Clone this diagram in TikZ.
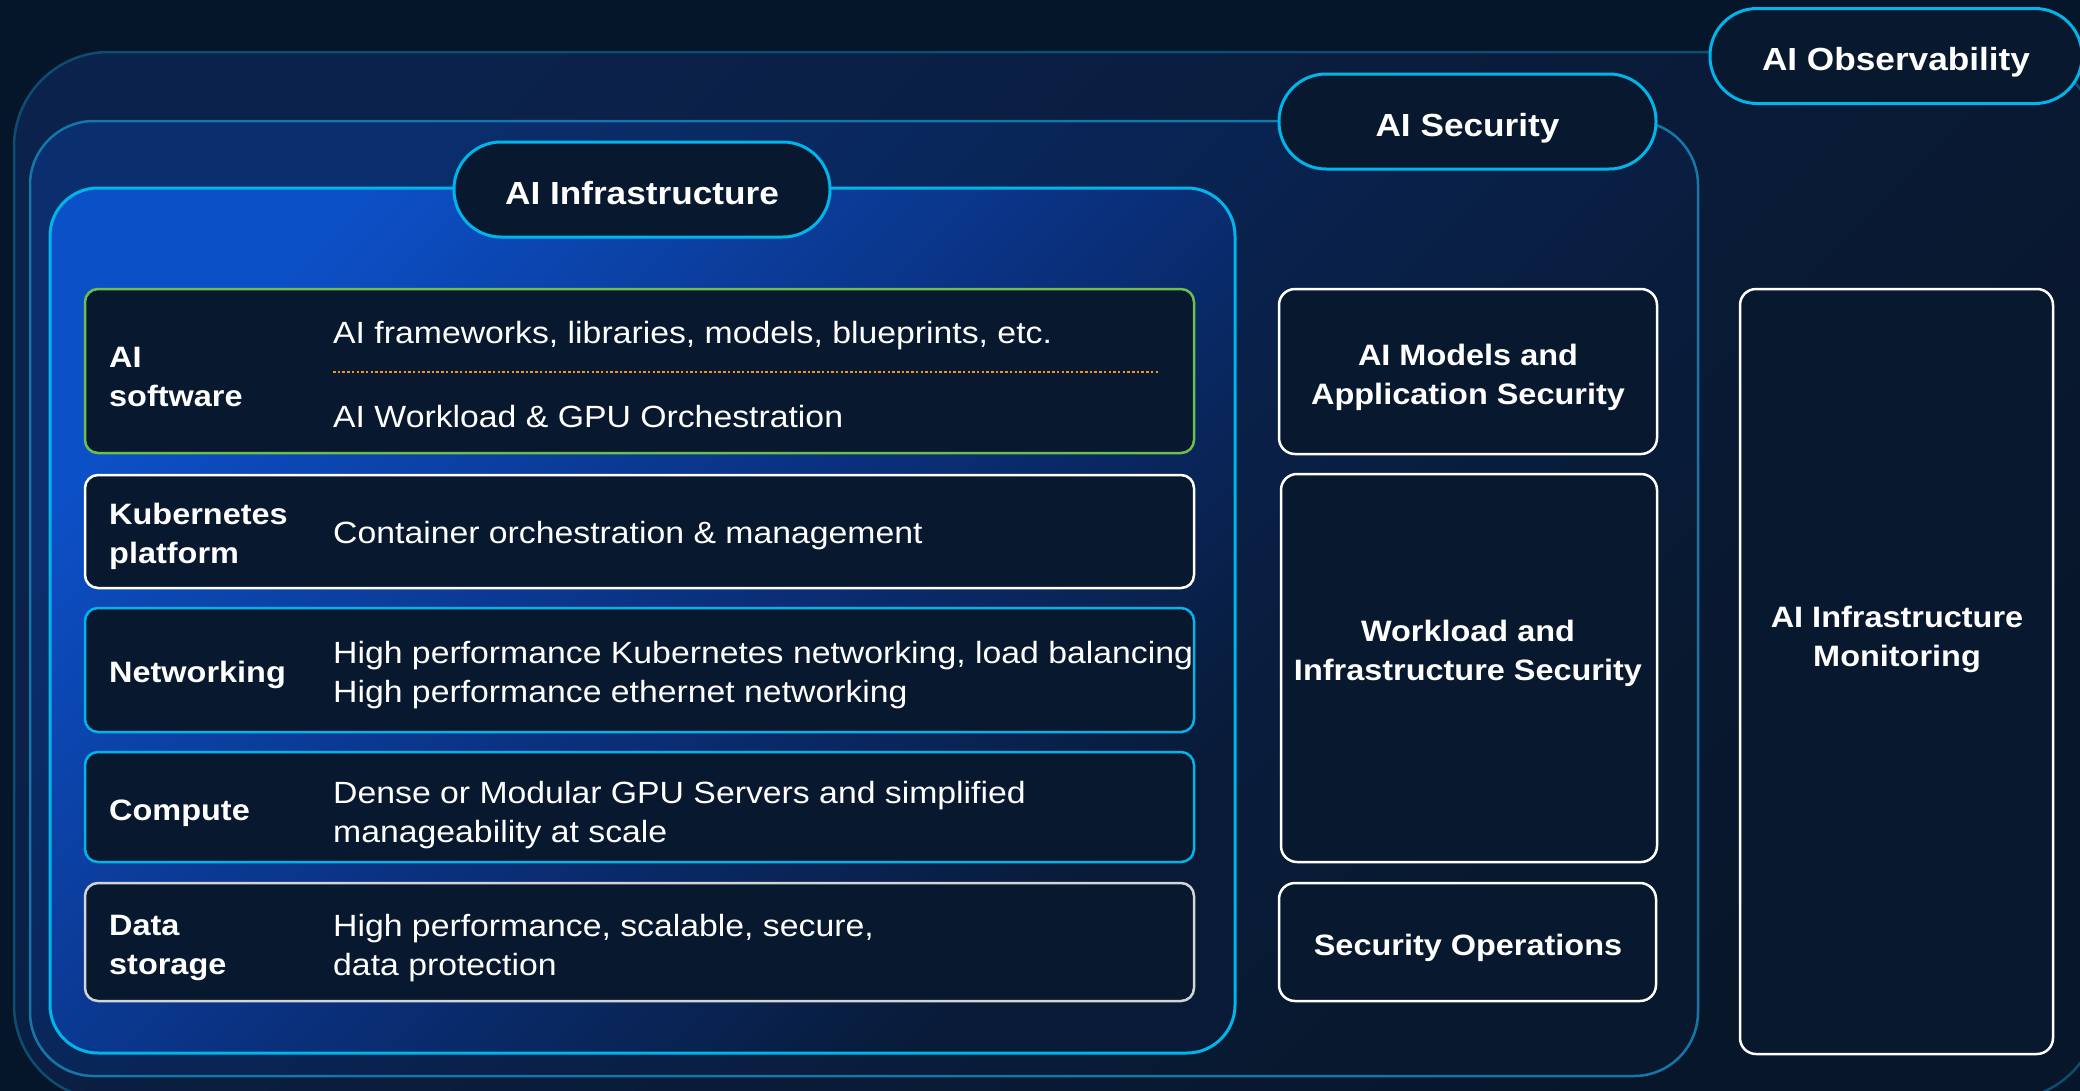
\documentclass[tikz,border=0pt]{standalone}
\usepackage{fontspec}
\setmainfont{Liberation Sans}[FakeStretch=1.1]
\definecolor{bgc}{HTML}{06162A}
\definecolor{boxfill}{HTML}{08182F}
\definecolor{cyanc}{HTML}{00B5EA}
\definecolor{greenc}{HTML}{6CBF4A}
\definecolor{grayc}{HTML}{D2D4D6}
\definecolor{orangec}{HTML}{F7931E}
\definecolor{secline}{HTML}{1477A8}
\definecolor{obsline}{HTML}{0E4C70}
\newcommand\myhead{\fontsize{32}{39}\selectfont\bfseries}
\newcommand\mylabel{\fontsize{29.5}{39}\selectfont\bfseries}
\newcommand\mydesc{\fontsize{30.7}{39}\selectfont}
\tikzset{
  rowbox/.style={draw, line width=2.5pt, fill=boxfill, rounded corners=13pt,
    minimum width=1109pt, inner sep=0pt, outer sep=0pt},
  colbox/.style={draw=white, line width=2.5pt, fill=boxfill, rounded corners=16pt,
    inner sep=0pt, outer sep=0pt},
  pill/.style={draw=cyanc, line width=3pt, fill=boxfill, rounded corners=47pt,
    minimum height=95pt, inner sep=0pt, text=white, font=\myhead,
    text height=29pt, text depth=0pt},
  lbl/.style={anchor=west, inner sep=0pt, text=white, font=\mylabel, align=left},
  dsc/.style={anchor=west, inner sep=0pt, text=white, font=\mydesc, align=left},
  ctr/.style={inner sep=0pt, text=white, font=\mylabel, align=center},
}
\begin{document}
\begin{tikzpicture}[x=1pt,y=-1pt]
\useasboundingbox (0,0) rectangle (2080,1090);
\clip (0,0) rectangle (2080,1090);
\fill[bgc] (-10,-10) rectangle (2090,1100);

% containers
\node[draw=obsline, line width=2.5pt, rounded corners=95pt, inner sep=0pt,
  minimum width=2086pt, minimum height=1048pt,
  top color={rgb,255:red,11;green,34;blue,76}, bottom color={rgb,255:red,8;green,22;blue,42},
  shading angle=45] (obsbox) at (1057,576) {};
\node[draw=secline, line width=2.5pt, rounded corners=64pt, inner sep=0pt,
  minimum width=1668pt, minimum height=955pt,
  top color={rgb,255:red,10;green,46;blue,110}, bottom color={rgb,255:red,8;green,24;blue,46},
  middle color={rgb,255:red,9;green,34;blue,78},
  shading angle=45] (secbox) at (864,598.5) {};
\node[draw=cyanc, line width=3pt, rounded corners=48pt, inner sep=0pt,
  minimum width=1185pt, minimum height=865pt,
  top color={rgb,255:red,12;green,80;blue,200}, bottom color={rgb,255:red,8;green,26;blue,54},
  middle color={rgb,255:red,10;green,50;blue,130},
  shading angle=45] (infbox) at (642.5,620.5) {};

% infrastructure rows
\node[rowbox, draw=greenc, minimum height=164pt] (sw) at (639.5,371) {};
\node[rowbox, draw=white, minimum height=113pt] (k8s) at (639.5,531.5) {};
\node[rowbox, draw=cyanc, minimum height=124pt] (net) at (639.5,670) {};
\node[rowbox, draw=cyanc, minimum height=110pt] (cmp) at (639.5,807) {};
\node[rowbox, draw=grayc, minimum height=118pt] (dat) at (639.5,942) {};

% security column
\node[colbox, minimum width=378pt, minimum height=165pt] (mod) at (1468,371.5) {};
\node[colbox, minimum width=376pt, minimum height=388pt] (wkl) at (1469,668) {};
\node[colbox, minimum width=377pt, minimum height=118pt] (sop) at (1467.5,942) {};

% observability column
\node[colbox, minimum width=313pt, minimum height=765pt] (mon) at (1896.5,671.5) {};

% pills
\node[pill, minimum width=376pt] (infpill) at (642,189.5) {AI Infrastructure};
\node[pill, minimum width=377pt] (secpill) at (1467.5,121.5) {AI Security};
\node[pill, minimum width=372pt] (obspill) at (1896,56) {AI Observability};

% row texts
\node[lbl] (swl) at (109,377) {AI\\software};
\node[dsc, anchor=base west] (swd1) at (333,343) {AI frameworks, libraries, models, blueprints, etc.};
\node[dsc, anchor=base west] (swd2) at (333,427) {AI Workload \& GPU Orchestration};
\coordinate (dotl) at (333,372);
\coordinate (dotr) at (1158,372);
\draw[orangec, line width=2.8pt, dash pattern=on 2.5pt off 2.2pt] (dotl) -- (dotr);

\node[lbl] (k8sl) at (109,536) {Kubernetes\\platform};
\node[dsc] (k8sd) at (333,536) {Container orchestration \& management};

\node[lbl] (netl) at (109,675) {Networking};
\node[dsc] (netd) at (333,675.5) {High performance Kubernetes networking, load balancing\\High performance ethernet networking};

\node[lbl] (cmpl) at (109,813) {Compute};
\node[dsc] (cmpd) at (333,815) {Dense or Modular GPU Servers and simplified\\manageability at scale};

\node[lbl] (datl) at (109,948) {Data\\storage};
\node[dsc] (datd) at (333,948) {High performance, scalable, secure,\\data protection};

% column texts
\node[ctr] (modt) at (1468,377) {AI Models and\\Application Security};
\node[ctr] (wklt) at (1468,653) {Workload and\\Infrastructure Security};
\node[ctr] (sopt) at (1468,948) {Security Operations};
\node[ctr] (mont) at (1897,639) {AI Infrastructure\\Monitoring};
\end{tikzpicture}
\end{document}
